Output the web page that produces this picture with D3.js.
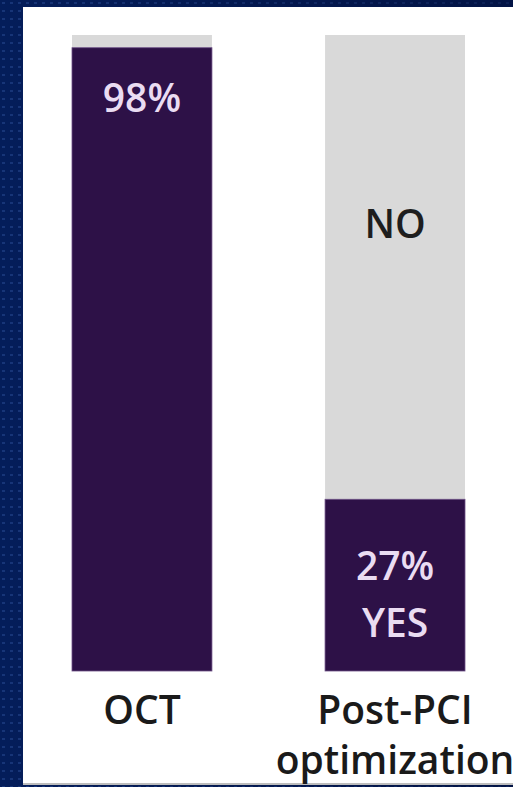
<!DOCTYPE html>
<html>
<head>
<meta charset="utf-8">
<script src="https://cdn.jsdelivr.net/npm/d3@7"></script>
<style>
  html, body { margin: 0; padding: 0; background: #0a2563; }
  svg { display: block; }
</style>
</head>
<body>
<svg id="chart" width="513" height="787"></svg>
<script>
// Share of cases (%) for each category
const categories = ["OCT", "Post-PCI optimization"];
const yesValues = [98, 27];
const valueLabels = ["98%", "27%"];
const yesText = ["", "YES"];
const noText = ["", "NO"];
const axisLines = [["OCT"], ["Post-PCI", "optimization"]];

const W = 513, H = 787;
const svg = d3.select("#chart");

// Navy backdrop with a fine dot grid
const defs = svg.append("defs");
const pat = defs.append("pattern")
  .attr("id", "dots").attr("width", 8).attr("height", 8)
  .attr("patternUnits", "userSpaceOnUse");
pat.append("rect").attr("width", 8).attr("height", 8).attr("fill", "#041d5a");
pat.append("rect").attr("x", 2).attr("y", 2).attr("width", 3).attr("height", 2)
  .attr("fill", "#1b3b80").attr("opacity", 0.8);
const grad = defs.append("linearGradient").attr("id", "shade")
  .attr("x1", 0).attr("x2", 1).attr("y1", 0).attr("y2", 0);
grad.append("stop").attr("offset", 0).attr("stop-color", "#000a30").attr("stop-opacity", 0);
grad.append("stop").attr("offset", 1).attr("stop-color", "#000a30").attr("stop-opacity", 0.5);

svg.append("rect").attr("width", W).attr("height", H).attr("fill", "url(#dots)");
svg.append("rect").attr("width", W).attr("height", H).attr("fill", "url(#shade)");

// White slide panel
const panel = { x: 23, y: 7, w: W - 23, h: 778 };
svg.append("rect").attr("x", panel.x).attr("y", panel.y)
  .attr("width", panel.w).attr("height", panel.h).attr("fill", "#ffffff");
svg.append("rect").attr("x", panel.x).attr("y", panel.y + panel.h - 2)
  .attr("width", panel.w).attr("height", 2).attr("fill", "#bdbdbd");

// Scales
const x = d3.scaleBand().domain(categories).range([72, 465]).paddingInner(0.447).paddingOuter(0);
const y = d3.scaleLinear().domain([0, 100]).range([671, 35]);

const data = categories.map((c, i) => ({
  cat: c, yes: yesValues[i], label: valueLabels[i],
  yesText: yesText[i], noText: noText[i], lines: axisLines[i]
}));

const font = "'Open Sans', 'DejaVu Sans', sans-serif";
const fs = 39, fw = 600;
const g = svg.append("g");

// Full-height grey track (the "no" share)
g.selectAll("rect.track").data(data).join("rect")
  .attr("class", "track")
  .attr("x", d => x(d.cat)).attr("width", x.bandwidth())
  .attr("y", y(100)).attr("height", y(0) - y(100))
  .attr("fill", "#d9d9d9");

// Dark "yes" share
g.selectAll("rect.yes").data(data).join("rect")
  .attr("class", "yes")
  .attr("x", d => x(d.cat)).attr("width", x.bandwidth())
  .attr("y", d => y(d.yes)).attr("height", d => y(0) - y(d.yes))
  .attr("fill", "#2d1147")
  .attr("stroke", "#6d4f86").attr("stroke-width", 0.8);

const cx = d => x(d.cat) + x.bandwidth() / 2;

// Value labels inside the dark segments
g.selectAll("text.val").data(data).join("text")
  .attr("class", "val")
  .attr("x", cx)
  .attr("y", d => d.yesText ? (y(d.yes) + y(0)) / 2 - 5 : y(d.yes) + 64)
  .attr("text-anchor", "middle")
  .attr("font-family", font).attr("font-size", fs).attr("font-weight", fw)
  .attr("fill", "#eadcf2")
  .text(d => d.label);

g.selectAll("text.yesTxt").data(data.filter(d => d.yesText)).join("text")
  .attr("class", "yesTxt")
  .attr("x", cx)
  .attr("y", d => (y(d.yes) + y(0)) / 2 + 52)
  .attr("text-anchor", "middle")
  .attr("font-family", font).attr("font-size", fs).attr("font-weight", fw)
  .attr("fill", "#eadcf2")
  .text(d => d.yesText);

g.selectAll("text.noTxt").data(data.filter(d => d.noText)).join("text")
  .attr("class", "noTxt")
  .attr("x", cx)
  .attr("y", d => y(100) + 203)
  .attr("text-anchor", "middle")
  .attr("font-family", font).attr("font-size", fs).attr("font-weight", fw)
  .attr("fill", "#1e1e1e")
  .text(d => d.noText);

// Category labels under the bars
const cats = g.selectAll("text.cat").data(data).join("text")
  .attr("class", "cat")
  .attr("x", cx)
  .attr("y", y(0) + 53)
  .attr("text-anchor", "middle")
  .attr("font-family", font).attr("font-size", fs).attr("font-weight", fw)
  .attr("fill", "#1a1a1a");
cats.selectAll("tspan").data(d => d.lines.map(l => ({ l, cx: cx(d) }))).join("tspan")
  .attr("x", t => t.cx)
  .attr("dy", (t, i) => i === 0 ? 0 : 50)
  .text(t => t.l);
</script>
</body>
</html>
